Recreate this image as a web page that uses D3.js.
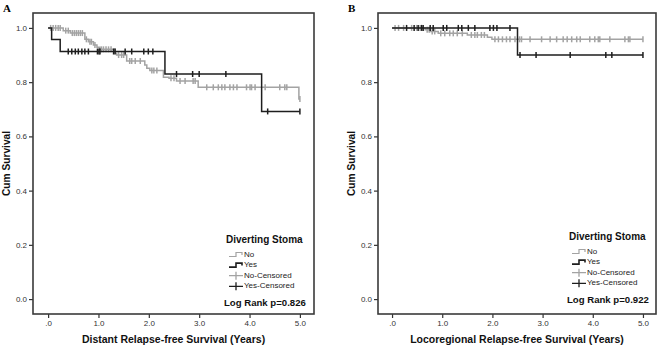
<!DOCTYPE html>
<html>
<head>
<meta charset="utf-8">
<script src="https://cdn.jsdelivr.net/npm/d3@7"></script>
<style>
  body { margin: 0; background: #fff; }
  svg { display: block; font-family: "Liberation Sans", Arial, sans-serif; }
</style>
</head>
<body>
<div id="chart"></div>
<script>
// ---- data: [time (years), cumulative survival] ----
const distantNoSteps = [[0, 1.0], [0.30, 0.990], [0.44, 0.981], [0.73, 0.958], [0.80, 0.949], [0.90, 0.937],
  [0.97, 0.929], [1.03, 0.921], [1.33, 0.907], [1.36, 0.900], [1.56, 0.878], [1.92, 0.863], [1.96, 0.851],
  [2.02, 0.843], [2.29, 0.818], [2.40, 0.814], [2.55, 0.804], [2.98, 0.781], [4.98, 0.738], [5.0, 0.738]];
const distantNoCensored = [0.05, 0.10, 0.15, 0.20, 0.24, 0.35, 0.40, 0.48, 0.52, 0.56, 0.60, 0.64, 0.68, 0.76,
  0.83, 0.86, 0.93, 1.06, 1.10, 1.15, 1.20, 1.25, 1.40, 1.46, 1.50, 1.62, 1.66, 1.73, 1.83, 2.06, 2.10, 2.16,
  2.44, 2.50, 2.62, 2.72, 2.88, 2.92, 3.15, 3.28, 3.38, 3.45, 3.51, 3.61, 3.68, 3.75, 3.94, 4.01, 4.04, 4.11,
  4.31, 4.60, 4.70, 4.74, 5.0];
const distantYesSteps = [[0, 1.0], [0.07, 0.957], [0.24, 0.913], [2.32, 0.830], [4.24, 0.692], [5.0, 0.692]];
const distantYesCensored = [0.40, 0.47, 0.54, 0.60, 0.67, 0.73, 0.80, 0.98, 1.01, 1.03, 1.30, 1.33, 1.53, 1.66,
  1.90, 1.99, 2.08, 2.55, 2.87, 3.00, 3.53, 4.36, 5.0];

const localNoSteps = [[0, 1.0], [0.66, 0.993], [0.76, 0.987], [0.92, 0.980], [1.50, 0.974], [1.90, 0.966],
  [1.99, 0.958], [5.0, 0.958]];
const localNoCensored = [0.06, 0.13, 0.23, 0.39, 0.49, 0.56, 0.70, 0.74, 0.80, 0.85, 0.97, 1.05, 1.15, 1.22,
  1.30, 1.40, 1.58, 1.65, 1.70, 1.78, 1.84, 2.05, 2.12, 2.20, 2.28, 2.35, 2.45, 2.54, 2.58, 2.75, 2.98, 3.15,
  3.28, 3.41, 3.49, 3.58, 3.68, 3.75, 3.94, 4.04, 4.11, 4.14, 4.34, 4.64, 4.71, 4.74, 5.0];
const localYesSteps = [[0, 1.0], [2.50, 0.900], [5.0, 0.900]];
const localYesCensored = [0.29, 0.44, 0.52, 0.59, 0.62, 0.76, 0.82, 1.02, 1.09, 1.32, 1.39, 1.52, 1.65, 1.95,
  2.02, 2.09, 2.35, 2.55, 2.87, 3.55, 4.26, 4.38, 5.0];

const xTicks = [0, 1, 2, 3, 4, 5];
const xTickLabels = [".0", "1.0", "2.0", "3.0", "4.0", "5.0"];
const yTicks = [0, 0.2, 0.4, 0.6, 0.8, 1.0];
const yTickLabels = ["0.0", "0.2", "0.4", "0.6", "0.8", "1.0"];
const legendLabels = ["No", "Yes", "No-Censored", "Yes-Censored"];

const NO_COLOR = "#a3a3a3";
const YES_COLOR = "#1e1e1e";

const svg = d3.select("#chart").append("svg")
    .attr("width", 660)
    .attr("height", 347);

class KMPanel {
  constructor(_config) {
    this.config = _config;
    this.initVis();
  }

  initVis() {
    let vis = this;
    const c = vis.config;

    vis.xScale = d3.scaleLinear().domain(c.xDomain).range([c.left, c.right]);
    vis.yScale = d3.scaleLinear().domain([-0.055, 1.055]).range([c.bottom, c.top]);

    vis.g = svg.append("g");

    // panel letter
    vis.g.append("text")
        .attr("x", c.left - 30)
        .attr("y", 12)
        .attr("font-family", "'Liberation Serif', 'Times New Roman', serif")
        .attr("font-weight", "bold")
        .attr("font-size", 11)
        .text(c.letter);

    // axes
    const xAxis = d3.axisBottom(vis.xScale)
        .tickValues(xTicks)
        .tickFormat((d, i) => xTickLabels[i])
        .tickSize(4)
        .tickPadding(2)
        .tickSizeOuter(0);
    const yAxis = d3.axisLeft(vis.yScale)
        .tickValues(yTicks)
        .tickFormat((d, i) => yTickLabels[i])
        .tickSize(4)
        .tickPadding(2)
        .tickSizeOuter(0);

    const xg = vis.g.append("g")
        .attr("transform", `translate(0,${c.bottom})`)
        .call(xAxis);
    const yg = vis.g.append("g")
        .attr("transform", `translate(${c.left},0)`)
        .call(yAxis);
    [xg, yg].forEach(g => {
      g.select(".domain").remove();
      g.selectAll(".tick line").attr("stroke", "#333").attr("stroke-width", 1.2);
      g.selectAll(".tick text").attr("fill", "#333").attr("font-size", 8)
          .attr("font-family", "'Liberation Sans', Arial, sans-serif");
    });

    // frame
    vis.g.append("rect")
        .attr("x", c.left)
        .attr("y", c.top)
        .attr("width", c.right - c.left)
        .attr("height", c.bottom - c.top)
        .attr("fill", "none")
        .attr("stroke", "#3a3a3a")
        .attr("stroke-width", 1.6);

    // axis titles
    vis.g.append("text")
        .attr("x", (c.left + c.right) / 2)
        .attr("y", 343)
        .attr("text-anchor", "middle")
        .attr("font-weight", "bold")
        .attr("font-size", 10.5)
        .attr("fill", "#111")
        .text(c.xTitle);

    vis.g.append("text")
        .attr("transform", `translate(${c.left - 23},${(c.top + c.bottom) / 2}) rotate(-90)`)
        .attr("text-anchor", "middle")
        .attr("font-weight", "bold")
        .attr("font-size", 10.2)
        .attr("fill", "#111")
        .text("Cum Survival");
  }

  renderVis() {
    let vis = this;
    const c = vis.config;

    const line = d3.line()
        .x(d => vis.xScale(d[0]))
        .y(d => vis.yScale(d[1]))
        .curve(d3.curveStepAfter);

    const valueAt = (steps, t) => {
      let v = steps[0][1];
      steps.forEach(s => { if (s[0] <= t) v = s[1]; });
      return v;
    };

    const series = [
      {steps: c.noSteps, censored: c.noCensored, color: NO_COLOR},
      {steps: c.yesSteps, censored: c.yesCensored, color: YES_COLOR}
    ];

    series.forEach(s => {
      vis.g.append("path")
          .datum(s.steps)
          .attr("d", line)
          .attr("fill", "none")
          .attr("stroke", s.color)
          .attr("stroke-width", 1.5);

      vis.g.selectAll(null)
          .data(s.censored)
        .join("line")
          .attr("x1", d => vis.xScale(d))
          .attr("x2", d => vis.xScale(d))
          .attr("y1", d => vis.yScale(valueAt(s.steps, d)) - 3)
          .attr("y2", d => vis.yScale(valueAt(s.steps, d)) + 3)
          .attr("stroke", s.color)
          .attr("stroke-width", 1.5);
    });

    // legend
    const lg = vis.g.append("g")
        .attr("transform", `translate(${c.legendX},${c.legendY})`);

    lg.append("text")
        .attr("x", 0)
        .attr("y", 0)
        .attr("font-weight", "bold")
        .attr("font-size", 10)
        .attr("fill", "#111")
        .text("Diverting Stoma");

    const items = lg.selectAll(".item")
        .data(legendLabels)
      .join("g")
        .attr("class", "item")
        .attr("transform", (d, i) => `translate(3,${13 + i * 10.6})`);

    items.each(function(d, i) {
      const g = d3.select(this);
      const color = i % 2 === 0 ? NO_COLOR : YES_COLOR;
      if (i < 2) {
        g.append("path")
            .attr("d", "M0,0.5H7V-3.5H13V-1")
            .attr("fill", "none")
            .attr("stroke", color)
            .attr("stroke-width", i === 1 ? 1.6 : 1.2);
      } else {
        g.append("path")
            .attr("d", "M0,-1.5H14M7,-5.5V2.5")
            .attr("fill", "none")
            .attr("stroke", color)
            .attr("stroke-width", 1.3);
      }
      g.append("text")
          .attr("x", 15)
          .attr("y", 0.5)
          .attr("font-size", 8)
          .attr("fill", "#222")
          .text(d);
    });

    lg.append("text")
        .attr("x", -2)
        .attr("y", 63)
        .attr("font-weight", "bold")
        .attr("font-size", 9.6)
        .attr("fill", "#111")
        .text(c.logRank);
  }
}

const panelA = new KMPanel({
  letter: "A", left: 33, right: 314, top: 13, bottom: 314, xDomain: [-0.3, 5.28],
  xTitle: "Distant Relapse-free Survival (Years)",
  noSteps: distantNoSteps, noCensored: distantNoCensored,
  yesSteps: distantYesSteps, yesCensored: distantYesCensored,
  legendX: 226, legendY: 243, logRank: "Log Rank p=0.826"
});
panelA.renderVis();

const panelB = new KMPanel({
  letter: "B", left: 378, right: 656, top: 13, bottom: 314, xDomain: [-0.28, 5.26],
  xTitle: "Locoregional Relapse-free Survival (Years)",
  noSteps: localNoSteps, noCensored: localNoCensored,
  yesSteps: localYesSteps, yesCensored: localYesCensored,
  legendX: 569, legendY: 240, logRank: "Log Rank p=0.922"
});
panelB.renderVis();
</script>
</body>
</html>
